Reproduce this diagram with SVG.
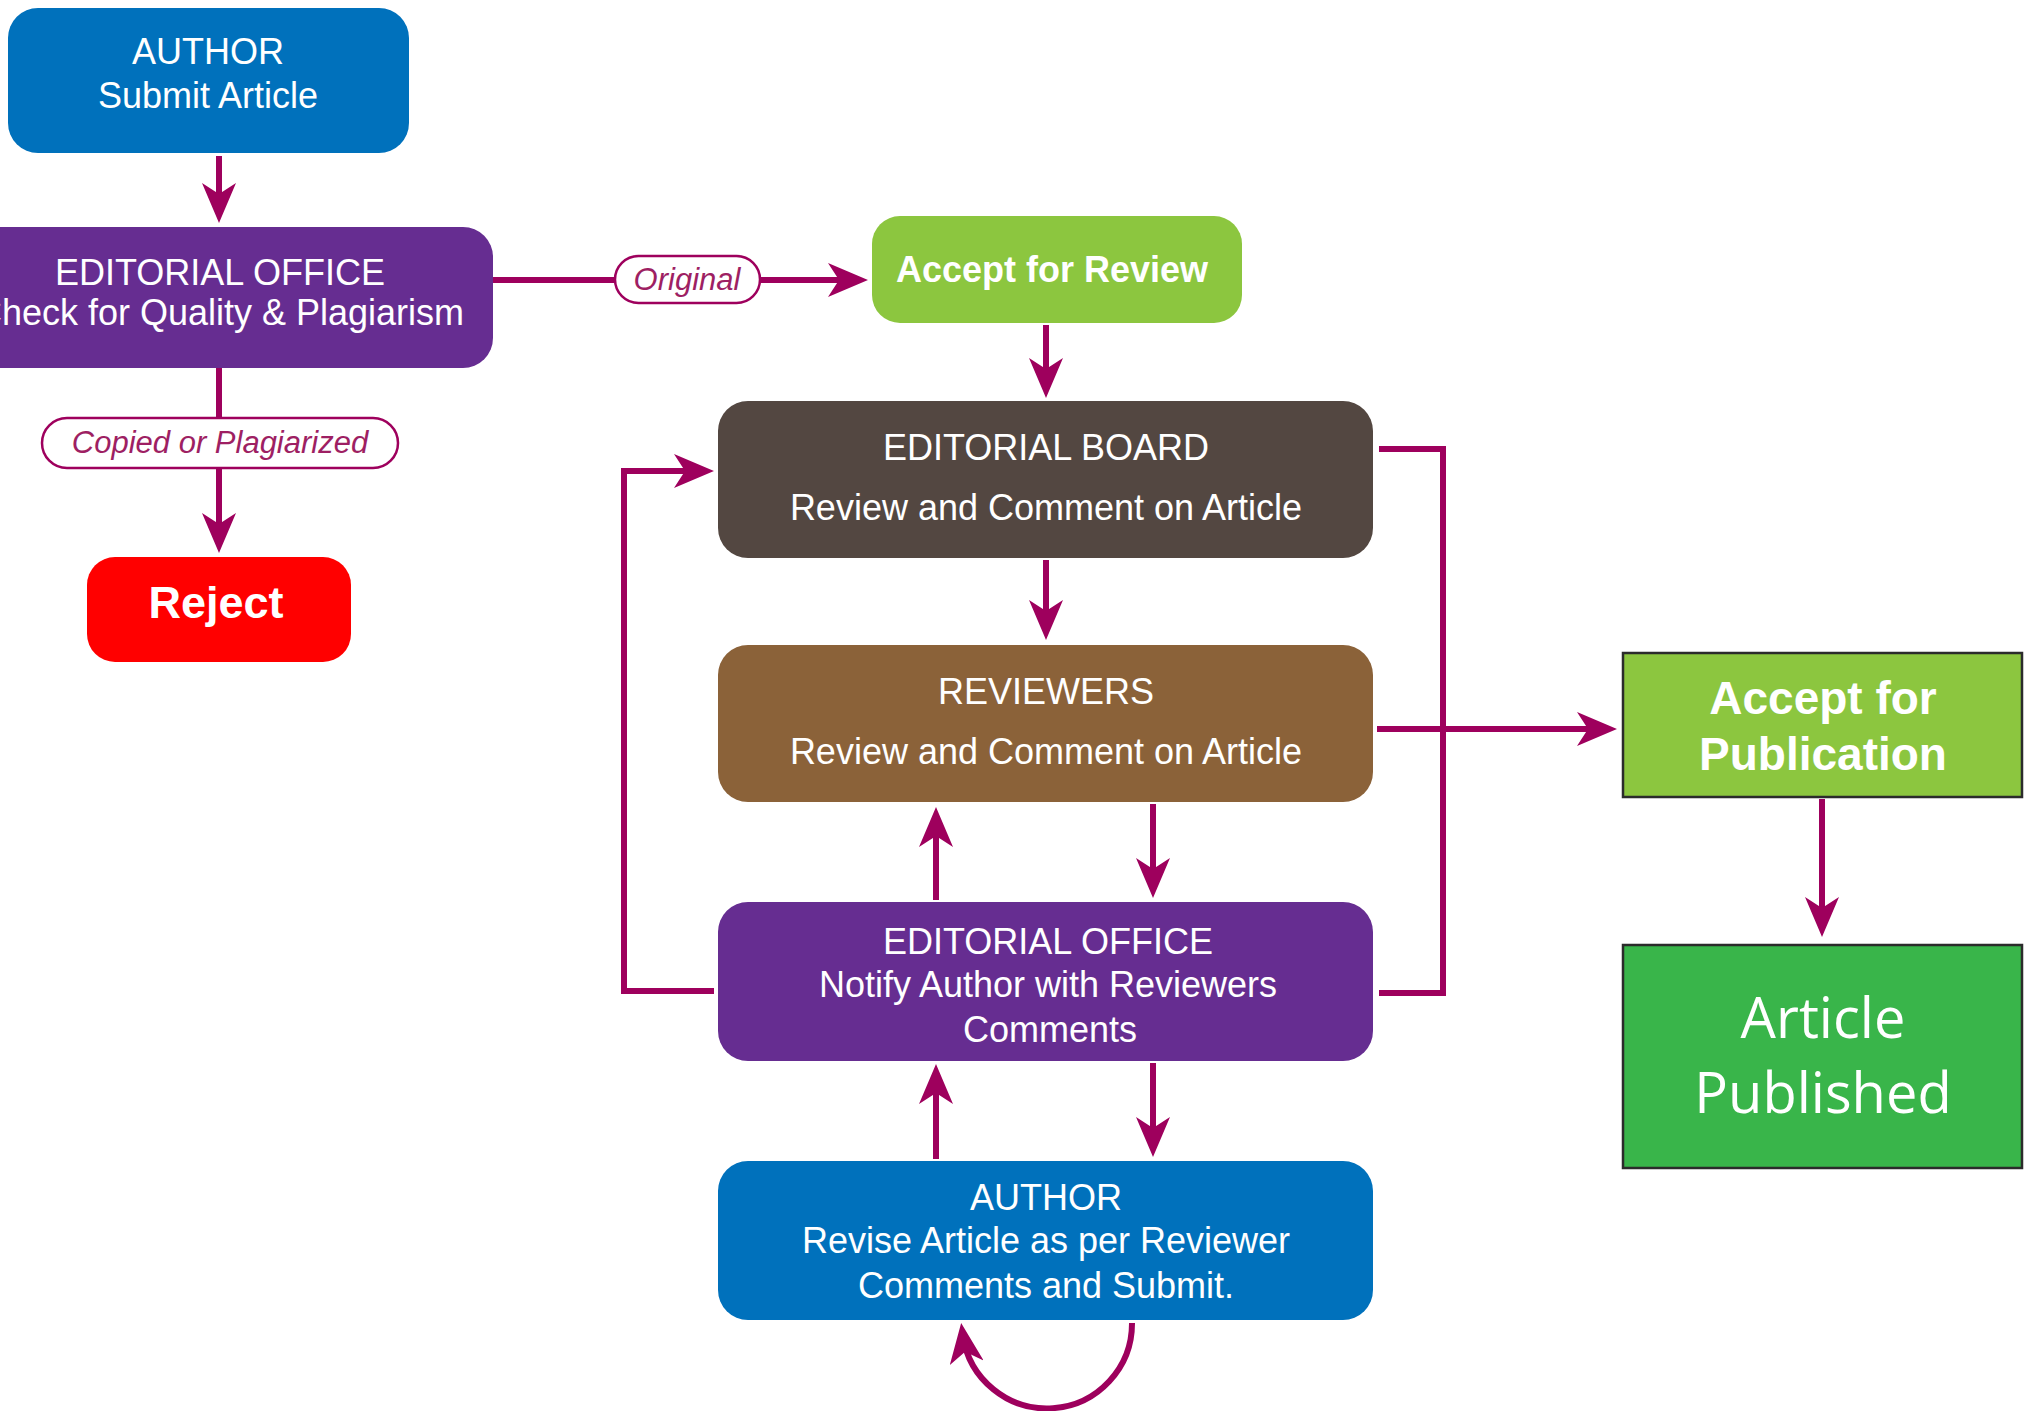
<svg xmlns="http://www.w3.org/2000/svg" width="2024" height="1411" viewBox="0 0 2024 1411">
<style>
.t{font-family:"Liberation Sans",Arial,sans-serif;fill:#ffffff;text-anchor:middle;font-size:36px}
.b{font-weight:bold}
.lbl{font-family:"Liberation Sans",Arial,sans-serif;font-style:italic;fill:#9E1F63;text-anchor:middle;font-size:31px}
.pill{fill:#ffffff;stroke:#9E005D;stroke-width:2.5}
.c{fill:none;stroke:#9E005D;stroke-width:6}
.pub{font-family:"Open Sans","Noto Sans",sans-serif;fill:#ffffff;text-anchor:middle;font-size:56px}
</style>
<defs>
<marker id="ah" markerUnits="userSpaceOnUse" viewBox="0 0 40 34" markerWidth="40" markerHeight="34" refX="28" refY="17" orient="auto">
<path d="M0,0 L40,17 L0,34 L11,17 Z" fill="#9E005D"/>
</marker>
</defs>
<rect width="2024" height="1411" fill="#ffffff"/>

<g id="connectors">
<path class="c" d="M219,156 V211" marker-end="url(#ah)"/>
<path class="c" d="M219,368 V417"/>
<path class="c" d="M219,468 V541" marker-end="url(#ah)"/>
<path class="c" d="M493,280 H615"/>
<path class="c" d="M760,280 H856" marker-end="url(#ah)"/>
<path class="c" d="M1046,325 V386" marker-end="url(#ah)"/>
<path class="c" d="M1046,560 V628" marker-end="url(#ah)"/>
<path class="c" d="M936,900 V819" marker-end="url(#ah)"/>
<path class="c" d="M1153,804 V886" marker-end="url(#ah)"/>
<path class="c" d="M936,1159 V1076" marker-end="url(#ah)"/>
<path class="c" d="M1153,1063 V1145" marker-end="url(#ah)"/>
<path class="c" d="M1132,1323 A85,85 0 0 1 962.8,1335" marker-end="url(#ah)"/>
<path class="c" d="M714,991 H624 V471 H702" marker-end="url(#ah)"/>
<path class="c" d="M1379,449 H1443 V993 H1379"/>
<path class="c" d="M1377,729 H1605" marker-end="url(#ah)"/>
<path class="c" d="M1822,799 V925" marker-end="url(#ah)"/>
</g>

<g id="label-original">
<rect class="pill" x="615" y="256" width="145" height="47" rx="23.5"/>
<text class="lbl" x="687" y="290">Original</text>
</g>
<g id="label-copied">
<rect class="pill" x="42" y="418" width="356" height="50" rx="25"/>
<text class="lbl" x="220" y="453">Copied or Plagiarized</text>
</g>

<g id="author-submit">
<rect x="8" y="8" width="401" height="145" rx="30" fill="#0071BC"/>
<text class="t" x="208" y="64">AUTHOR</text>
<text class="t" x="208" y="108">Submit Article</text>
</g>

<g id="editorial-office-check">
<rect x="-40" y="227" width="533" height="141" rx="30" fill="#662D91"/>
<text class="t" x="220" y="285">EDITORIAL OFFICE</text>
<text class="t" x="220" y="325">Check for Quality &amp; Plagiarism</text>
</g>

<g id="reject">
<rect x="87" y="557" width="264" height="105" rx="28" fill="#FF0000"/>
<text class="t b" x="216" y="618" style="font-size:45px">Reject</text>
</g>

<g id="accept-review">
<rect x="872" y="216" width="370" height="107" rx="28" fill="#8CC63F"/>
<text class="t b" x="1052" y="282">Accept for Review</text>
</g>

<g id="editorial-board">
<rect x="718" y="401" width="655" height="157" rx="30" fill="#534741"/>
<text class="t" x="1046" y="460">EDITORIAL BOARD</text>
<text class="t" x="1046" y="520">Review and Comment on Article</text>
</g>

<g id="reviewers">
<rect x="718" y="645" width="655" height="157" rx="30" fill="#8B6239"/>
<text class="t" x="1046" y="704">REVIEWERS</text>
<text class="t" x="1046" y="764">Review and Comment on Article</text>
</g>

<g id="editorial-office-notify">
<rect x="718" y="902" width="655" height="159" rx="30" fill="#662D91"/>
<text class="t" x="1048" y="954">EDITORIAL OFFICE</text>
<text class="t" x="1048" y="997">Notify Author with Reviewers</text>
<text class="t" x="1050" y="1042">Comments</text>
</g>

<g id="author-revise">
<rect x="718" y="1161" width="655" height="159" rx="30" fill="#0071BC"/>
<text class="t" x="1046" y="1210">AUTHOR</text>
<text class="t" x="1046" y="1253">Revise Article as per Reviewer</text>
<text class="t" x="1046" y="1298">Comments and Submit.</text>
</g>

<g id="accept-publication">
<rect x="1623" y="653" width="399" height="144" fill="#8CC63F" stroke="#2b2b2b" stroke-width="2.5"/>
<text class="t b" x="1823" y="714" style="font-size:46px">Accept for</text>
<text class="t b" x="1823" y="770" style="font-size:46px">Publication</text>
</g>

<g id="article-published">
<rect x="1623" y="945" width="399" height="223" fill="#39B54A" stroke="#2b2b2b" stroke-width="2.5"/>
<text class="pub" x="1823" y="1038">Article</text>
<text class="pub" x="1823" y="1113">Published</text>
</g>
</svg>
